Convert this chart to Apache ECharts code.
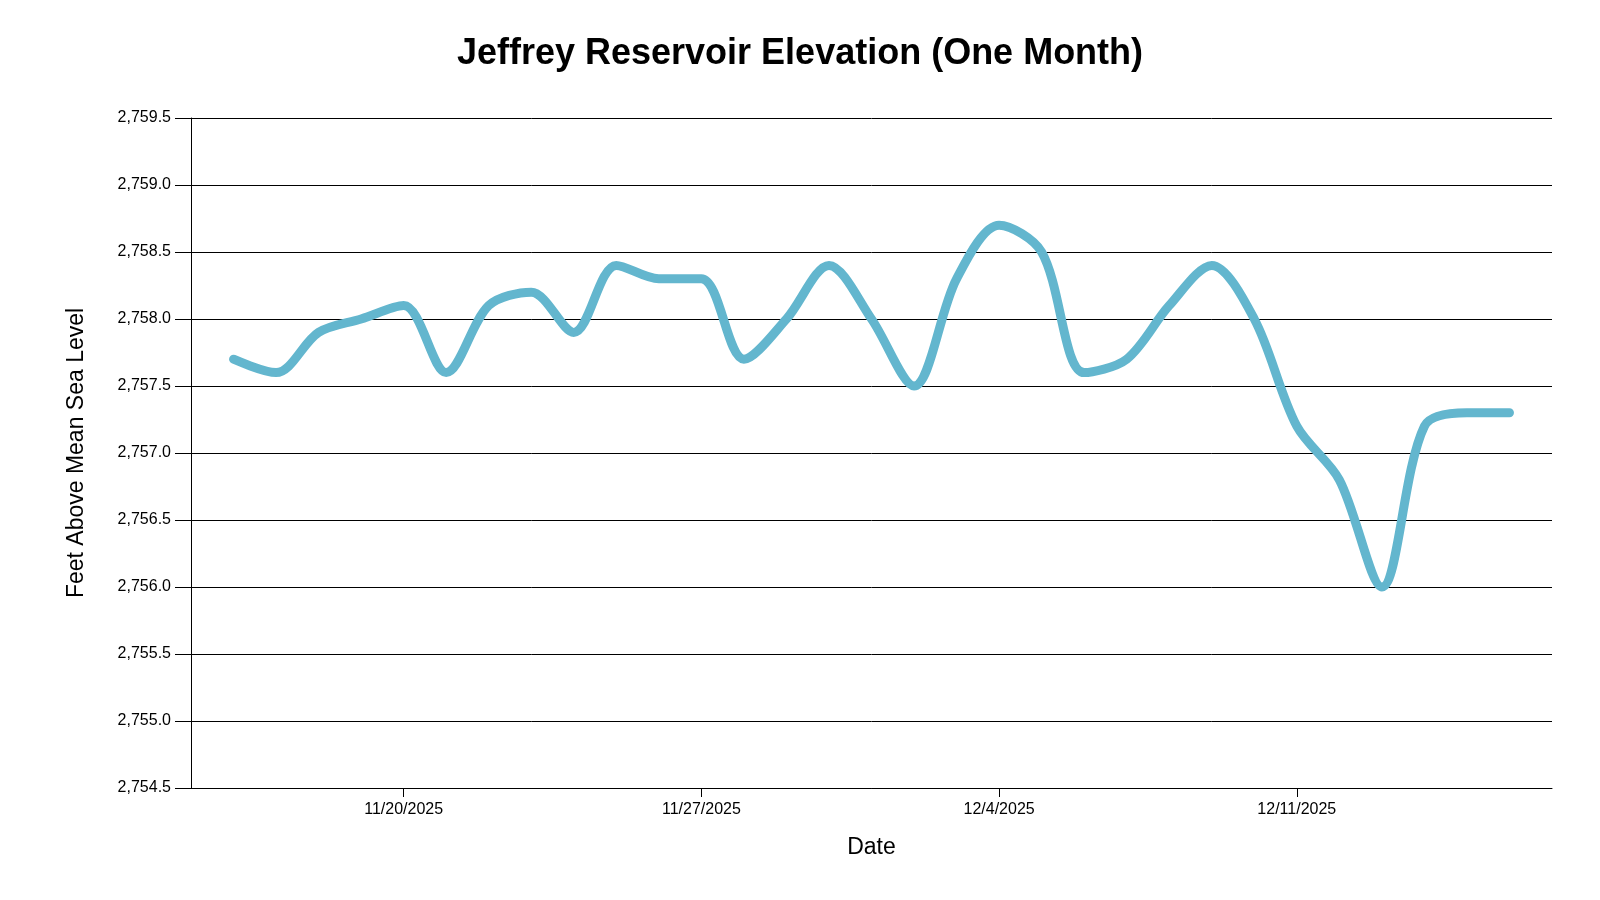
<!DOCTYPE html>
<html>
<head>
<meta charset="utf-8">
<script src="https://cdn.jsdelivr.net/npm/echarts@6/dist/echarts.min.js"></script>
<style>html,body{margin:0;padding:0;background:#fff}#c{width:1600px;height:900px}</style>
</head>
<body>
<div id="c"></div>
<script>
const titleText = 'Jeffrey Reservoir Elevation (One Month)';
const xName = 'Date';
const yName = 'Feet Above Mean Sea Level';
const dates = ['2025-11-16','2025-11-17','2025-11-18','2025-11-19','2025-11-20','2025-11-21','2025-11-22','2025-11-23','2025-11-24','2025-11-25','2025-11-26','2025-11-27','2025-11-28','2025-11-29','2025-11-30','2025-12-01','2025-12-02','2025-12-03','2025-12-04','2025-12-05','2025-12-06','2025-12-07','2025-12-08','2025-12-09','2025-12-10','2025-12-11','2025-12-12','2025-12-13','2025-12-14','2025-12-15','2025-12-16'];
const elevation = [2757.7,2757.6,2757.9,2758.0,2758.1,2757.6,2758.1,2758.2,2757.9,2758.4,2758.3,2758.3,2757.7,2758.0,2758.4,2758.0,2757.5,2758.3,2758.7,2758.5,2757.6,2757.7,2758.1,2758.4,2758.0,2757.2,2756.8,2756.0,2757.2,2757.3,2757.3];
const tickDates = ['2025-11-20','2025-11-27','2025-12-04','2025-12-11'];
const xMinDate = '2025-11-15';
const xMaxDate = '2025-12-17';
const yMin = 2754.5, yMax = 2759.5, yStep = 0.5;

const DAY = 86400000;
function utc(s){ const p = s.split('-').map(Number); return Date.UTC(p[0], p[1]-1, p[2]); }
const base = utc(xMinDate);
function dayNum(s){ return Math.round((utc(s) - base) / DAY); }
function dayLabel(n){ const d = new Date(base + Math.round(n) * DAY); return (d.getUTCMonth()+1)+'/'+d.getUTCDate()+'/'+d.getUTCFullYear(); }
const FONT = '"Liberation Sans", Arial, sans-serif';
const tickVals = tickDates.map(dayNum);

const chart = echarts.init(document.getElementById('c'), null, {renderer:'canvas'});
chart.setOption({
  animation: false,
  backgroundColor: '#ffffff',
  title: {
    text: titleText, left: 'center', top: 31,
    textStyle: {fontFamily: FONT, fontSize: 36, fontWeight: 'bold', color: '#000'}
  },
  grid: {left: 191, right: 48, top: 118, bottom: 112, containLabel: false},
  xAxis: {
    type: 'value', min: dayNum(xMinDate), max: dayNum(xMaxDate),
    name: xName, nameLocation: 'middle', nameGap: 48,
    nameTextStyle: {fontFamily: FONT, fontSize: 23, color: '#000'},
    axisLine: {show: true, lineStyle: {color: '#000', width: 1}},
    axisTick: {show: true, length: 9, lineStyle: {color: '#000'}, customValues: tickVals},
    axisLabel: {
      fontFamily: FONT, fontSize: 16, color: '#000', margin: 14,
      customValues: tickVals,
      formatter: function(v){ return dayLabel(v); }
    },
    splitLine: {show: false}
  },
  yAxis: {
    type: 'value', min: yMin, max: yMax, interval: yStep,
    name: yName, nameLocation: 'middle', nameGap: 103, nameRotate: 90,
    nameTextStyle: {fontFamily: FONT, fontSize: 23, color: '#000'},
    axisLine: {show: true, lineStyle: {color: '#000', width: 1}},
    axisTick: {show: true, length: 16, lineStyle: {color: '#000'}},
    axisLabel: {
      fontFamily: FONT, fontSize: 16, color: '#000', margin: 20,
      formatter: function(v){ return v.toLocaleString('en-US', {minimumFractionDigits:1, maximumFractionDigits:1}); }
    },
    splitLine: {show: true, lineStyle: {color: '#000', width: 1}}
  },
  series: [{
    type: 'line',
    data: dates.map((d,i) => [dayNum(d), elevation[i]]),
    smooth: 0.32,
    smoothMonotone: 'none',
    showSymbol: false,
    lineStyle: {color: '#63b6ce', width: 9, cap: 'round', join: 'round'},
    itemStyle: {color: '#63b6ce'}
  }]
});
</script>
</body>
</html>
